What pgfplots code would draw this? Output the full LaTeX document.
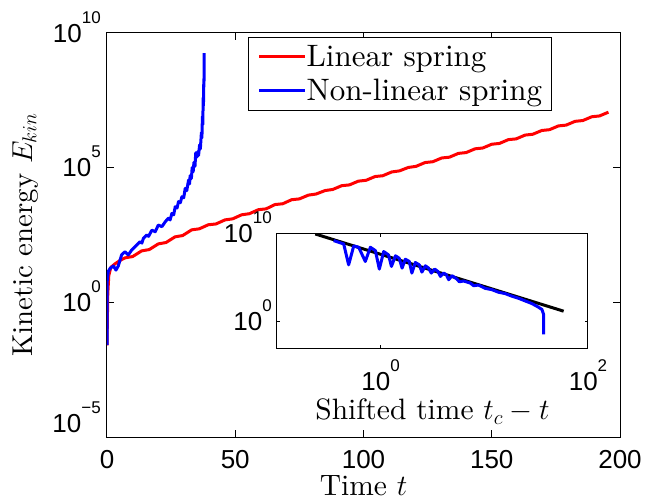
\RequirePackage{fix-cm}
\documentclass[border=0pt]{standalone}
\usepackage{fontspec}
\setmainfont{lmroman10-regular}[Extension=.otf, ItalicFont=lmroman10-italic, BoldFont=lmroman10-bold]
\setsansfont{Liberation Sans}
\usepackage{pgfplots}
\pgfplotsset{compat=1.18}
\newcommand{\lab}{\fontsize{28.8bp}{34bp}\selectfont}
\newcommand{\labx}{\fontsize{29.5bp}{34bp}\selectfont}
\newcommand{\leg}{\fontsize{31bp}{36bp}\selectfont}
\newcommand{\tk}{\sffamily\fontsize{26bp}{30bp}\selectfont}
\newcommand{\tp}[1]{10\smash{\raisebox{19bp}{\fontsize{17bp}{17bp}\selectfont #1}}}
\begin{document}
\begin{tikzpicture}
\begin{axis}[
  name=main,
  scale only axis, width=513bp, height=404bp,
  xmin=0, xmax=200, ymode=log, ymin=1e-5, ymax=1e10,
  xtick={0,50,100,150,200}, xticklabels={0,50,100,150,200},
  ytick={1e-5,1,1e5,1e10},
  yticklabels={\raisebox{14bp}{\tp{−5}},\tp{0},\tp{5},\tp{10}},
  yminorticks=false, xminorticks=false,
  tick align=inside, major tick length=7bp,
  axis line style={line width=1bp},
  every tick/.style={black, line width=1bp},
  xticklabel style={font=\tk, anchor=north, inner sep=0pt, yshift=-13bp},
  yticklabel style={font=\tk, anchor=base east, inner sep=0pt, xshift=-6bp, yshift=-9.3bp},
  xlabel={\labx Time $t$},
  ylabel={\lab Kinetic energy $E_{kin}$},
  every axis x label/.style={at={(axis description cs:0.5,-0.1455)}, anchor=base, inner sep=0pt},
  every axis y label/.style={at={(axis description cs:-0.1462,0.5)}, anchor=base, rotate=90, inner sep=1bp},
  legend style={at={(0.275,0.99)}, anchor=north west, draw=black, line width=1bp, fill=white, font=\leg,
    inner xsep=9bp, inner ysep=8bp, row sep=11bp, column sep=0bp, nodes={inner sep=0pt}},
  legend image code/.code={\draw[#1] (0bp,0bp) -- (46bp,0bp);},
  legend cell align=left,
]
\addplot[red, line width=3bp, line join=round] coordinates {
(0,2.51e-2) (0.3,2.0) (0.7,10) (1.5,20) (3,26.3) (5,35.5) (7,44.7) (10,50.1)
(13.5,81.3) (16.5,91.2) (20,148) (23,166) (26.5,269) (29.5,302) (33,490)
(36,537) (39.5,759) (42.5,813) (46,1150) (49,1260) (52.5,1780) (55.5,1950)
(59,2750) (62,2950) (65.5,4270) (68.5,4570) (72,6460) (75,6920) (78.5,9550)
(81.5,1.05e4) (85,1.41e4) (88,1.55e4) (91.5,2.14e4) (94.5,2.29e4) (98,3.16e4)
(101,3.39e4) (104.5,4.68e4) (107.5,5.01e4) (111,6.92e4) (114,7.59e4)
(117.5,1.02e5) (120.5,1.12e5) (124,1.55e5) (127,1.66e5) (130.5,2.29e5)
(133.5,2.45e5) (137,3.39e5) (140,3.63e5) (143.5,5.01e5) (146.5,5.37e5)
(150,7.41e5) (153,7.94e5) (156.5,1.10e6) (159.5,1.17e6) (163,1.62e6)
(166,1.74e6) (169.5,2.40e6) (172.5,2.57e6) (176,3.55e6) (179,3.80e6)
(182.5,5.25e6) (185.5,5.62e6) (189,7.76e6) (192,8.32e6) (195.5,1.15e7)
};
\addlegendentry{Linear spring}
\addplot[blue, line width=3bp, line join=round] coordinates {
(0,2.57e-2) (0.05,1) (0.1,6.76) (0.5,14.1) (1.2,18.2) (2.5,22.4) (3.5,15.8)
(4.4,22.4) (5.7,57.5) (7.0,75.9) (8.3,57.5) (9.6,87.1) (11.6,135) (12.9,178)
(13.6,158) (14.2,240) (15.5,316) (16.2,282) (17.5,479) (18.8,417) (20.0,741)
(21.4,646) (22.7,977) (23.9,1320) (24.6,1150) (25.3,2000) (26.0,1780)
(26.6,3550) (27.3,3160) (27.9,5500) (28.6,5010) (29.2,8320) (29.9,7590)
(30.5,1.70e4) (31.1,1.41e4) (31.8,3.47e4) (32.2,2.51e4) (32.4,5.01e4)
(32.9,3.98e4) (33.2,1.0e5) (33.6,7.08e4) (33.9,1.58e5) (34.3,1.12e5)
(34.6,3.55e5) (35.0,2.45e5) (35.4,3.98e5) (35.7,2.82e5) (36.1,7.08e5)
(36.4,5.01e5) (36.8,2.0e6) (37.0,1.26e6) (37.2,7.94e6) (37.35,3.98e6)
(37.5,3.98e7) (37.6,2.0e7) (37.75,2.0e8) (37.8,1.0e8) (37.9,1.78e9)
};
\addlegendentry{Non-linear spring}
\end{axis}
\begin{axis}[
  at={(170bp,89bp)}, anchor=south west,
  scale only axis, width=311bp, height=115bp,
  xmode=log, ymode=log, xmin=0.1, xmax=100, ymin=1e-3, ymax=1e10,
  xtick={1,100}, xticklabels={\tp{0},\tp{2}},
  ytick={1,1e10}, yticklabels={\tp{0},\tp{10}},
  xminorticks=false, yminorticks=false,
  tick align=inside, major tick length=3.5bp,
  axis line style={line width=1bp},
  every tick/.style={black, line width=1bp},
  axis background/.style={fill=white},
  xticklabel style={font=\tk, anchor=north, inner sep=0pt, yshift=-24bp},
  yticklabel style={font=\tk, anchor=base east, inner sep=0pt, xshift=-5bp, yshift=-9.3bp},
  xlabel={\labx Shifted time $t_c-t$},
  every axis x label/.style={at={(axis description cs:0.5,-0.626)}, anchor=base, inner sep=1bp},
]
\addplot[black, line width=3bp] coordinates {(0.234,7.76e9) (58.2,14.5)};
\addplot[blue, line width=3bp, line join=round] coordinates {
(0.352,1.38e9) (0.440,5.75e8) (0.491,2.51e6) (0.550,3.47e8) (0.614,2.45e8)
(0.711,6.03e6) (0.796,2.45e8) (0.889,1.02e8) (0.971,8.32e5) (1.07,7.94e7)
(1.19,3.39e7) (1.27,1.66e6) (1.39,2.63e7) (1.51,1.41e7) (1.61,1.07e6)
(1.73,1.10e7) (1.89,6.03e6) (2.00,2.95e5) (2.16,4.57e6) (2.36,2.51e6)
(2.50,3.80e5) (2.70,1.95e6) (2.90,1.07e6) (3.08,2.95e5) (3.32,8.32e5)
(3.57,4.47e5) (3.77,1.23e5) (4.06,2.95e5) (4.30,1.91e5) (4.53,5.25e4)
(4.88,1.48e5) (5.45,6.17e4) (5.73,3.09e4) (6.31,3.72e4) (7.33,2.19e4)
(7.89,1.10e4) (8.81,1.32e4) (10.2,5.50e3) (11.8,3.98e3) (13.7,2.00e3)
(15.9,1.41e3) (18.5,708) (21.4,417) (24.8,209) (28.8,105) (32.9,44.7)
(36.0,22.4) (37.3,6.17) (37.3,3.47e-2)
};
\end{axis}
\pgfresetboundingbox
\useasboundingbox (-107bp,-63bp) rectangle (541bp,437bp);
\end{tikzpicture}
\end{document}
